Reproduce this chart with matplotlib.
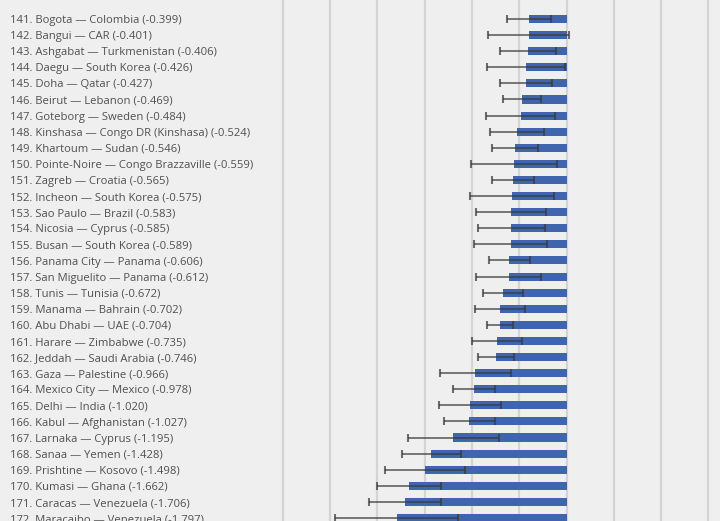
import numpy as np
import matplotlib.pyplot as plt
from matplotlib import transforms

ranks = list(range(141, 173))
cities = ["Bogota", "Bangui", "Ashgabat", "Daegu", "Doha", "Beirut", "Goteborg",
          "Kinshasa", "Khartoum", "Pointe-Noire", "Zagreb", "Incheon", "Sao Paulo",
          "Nicosia", "Busan", "Panama City", "San Miguelito", "Tunis", "Manama",
          "Abu Dhabi", "Harare", "Jeddah", "Gaza", "Mexico City", "Delhi", "Kabul",
          "Larnaka", "Sanaa", "Prishtine", "Kumasi", "Caracas", "Maracaibo"]
countries = ["Colombia", "CAR", "Turkmenistan", "South Korea", "Qatar", "Lebanon",
             "Sweden", "Congo DR (Kinshasa)", "Sudan", "Congo Brazzaville", "Croatia",
             "South Korea", "Brazil", "Cyprus", "South Korea", "Panama", "Panama",
             "Tunisia", "Bahrain", "UAE", "Zimbabwe", "Saudi Arabia", "Palestine",
             "Mexico", "India", "Afghanistan", "Cyprus", "Yemen", "Kosovo", "Ghana",
             "Venezuela", "Venezuela"]
scores = [-0.399, -0.401, -0.406, -0.426, -0.427, -0.469, -0.484, -0.524, -0.546,
          -0.559, -0.565, -0.575, -0.583, -0.585, -0.589, -0.606, -0.612, -0.672,
          -0.702, -0.704, -0.735, -0.746, -0.966, -0.978, -1.020, -1.027, -1.195,
          -1.428, -1.498, -1.662, -1.706, -1.797]
errors = [0.23, 0.425, 0.295, 0.41, 0.275, 0.20, 0.365, 0.285, 0.245, 0.455, 0.225,
          0.44, 0.37, 0.355, 0.385, 0.215, 0.34, 0.215, 0.262, 0.135, 0.268, 0.19,
          0.375, 0.227, 0.325, 0.273, 0.48, 0.31, 0.42, 0.34, 0.38, 0.65]
grid_values = [-3.0, -2.5, -2.0, -1.5, -1.0, -0.5, 0.0, 0.5, 1.0, 1.5]

bg = '#efefef'
fig = plt.figure(figsize=(7.2, 5.21), dpi=100, facecolor=bg)
ax = fig.add_axes([0, 0, 1, 1], facecolor=bg)

y = np.arange(len(scores))
for g in grid_values:
    ax.axvline(g, color='#d4d4d4', lw=1.6, zorder=0)

ax.barh(y, scores, height=0.5, color='#3e65ae', zorder=2)
ax.errorbar(scores, y, xerr=errors, fmt='none', ecolor='#3a3a3a', alpha=0.72,
            elinewidth=1.3, capsize=3, capthick=1.5, zorder=3)

# labels sit in the left margin, outside the plotted range
trans = transforms.blended_transform_factory(ax.transAxes, ax.transData)
for i in range(len(scores)):
    label = f"{ranks[i]}. {cities[i]} \u2014 {countries[i]} ({scores[i]:.3f})"
    ax.text(10 / 720, y[i] + 0.1, label, transform=trans, ha='left', va='center',
            fontsize=8.1, color='#505050', family='Open Sans')

px = 94.6
ax.set_xlim(-566.5 / px, (720 - 566.5) / px)
ax.set_ylim(31 + 3 / 16.1, -19 / 16.1)
ax.axis('off')

fig.savefig('out.png', dpi=100, facecolor=bg)
